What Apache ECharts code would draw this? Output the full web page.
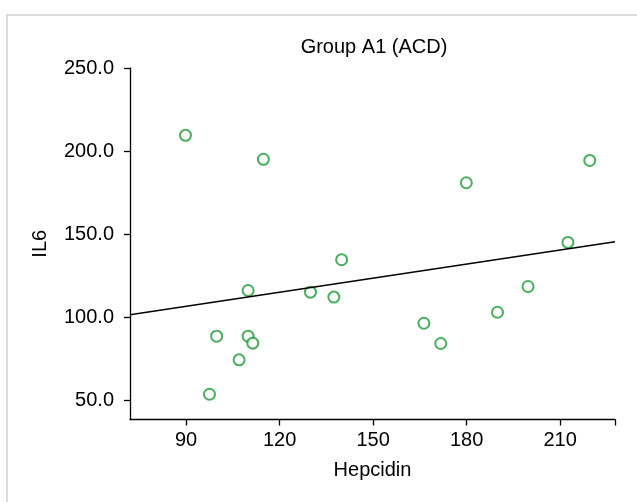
<!DOCTYPE html>
<html>
<head>
    <meta charset="utf-8">
    <title>Group A1 (ACD)</title>
    <style>
        html, body { margin: 0; padding: 0; background: #fff; }
        #main { width: 637px; height: 502px; }
    </style>
</head>
<body>
    <div id="main"></div>
    <script src="https://cdn.jsdelivr.net/npm/echarts@6/dist/echarts.min.js"></script>
    <script>
        // 数据
        var hepcidin = [89.8, 114.8, 219.5, 179.9, 212.5, 139.9, 109.9, 129.9, 137.4, 199.7, 189.9, 166.3, 99.8, 109.9, 111.4, 171.7, 107.0, 97.5];
        var il6 = [209.5, 195.1, 194.4, 181.0, 145.1, 134.7, 116.2, 115.2, 112.2, 118.6, 103.1, 96.5, 88.7, 88.7, 84.5, 84.3, 74.5, 53.8];

        // 回归线两端
        var fitX = [72, 227.6];
        var fitY = [101.6, 145.5];

        var xTicks = [90, 120, 150, 180, 210];
        var yTicks = [50, 100, 150, 200, 250];

        var points = hepcidin.map(function (x, i) { return [x, il6[i]]; });
        var fitLine = fitX.map(function (x, i) { return [x, fitY[i]]; });

        var myChart = echarts.init(document.getElementById('main'));
        var font = 'Liberation Sans, Arial, sans-serif';

        var option = {
            animation: false,
            graphic: [
                {
                    type: 'rect',
                    shape: { x: 7, y: 15, width: 700, height: 600 },
                    style: { fill: 'none', stroke: '#dcdcdc', lineWidth: 2 },
                    silent: true
                },
                {
                    type: 'text',
                    x: 374, y: 47,
                    style: {
                        text: 'Group A1 (ACD)',
                        font: '20px ' + font,
                        fill: '#000',
                        textAlign: 'center',
                        textVerticalAlign: 'middle'
                    }
                }
            ],
            grid: { left: 130, right: 22, top: 68, bottom: 82.5 },
            xAxis: {
                type: 'value',
                min: 72,
                max: 227.6,
                name: 'Hepcidin',
                nameLocation: 'middle',
                nameGap: 41,
                nameTextStyle: { fontSize: 20, fontFamily: font, color: '#000' },
                axisLine: { show: true, lineStyle: { color: '#000', width: 1.3 } },
                axisTick: { show: true, length: 6, customValues: xTicks.concat([227.6]), lineStyle: { color: '#000', width: 1.3 } },
                axisLabel: { customValues: xTicks, margin: 11, fontSize: 20, fontFamily: font, color: '#000' },
                splitLine: { show: false }
            },
            yAxis: {
                type: 'value',
                min: 38.6,
                max: 250,
                name: 'IL6',
                nameLocation: 'middle',
                nameGap: 80,
                nameRotate: 90,
                nameTextStyle: { fontSize: 20, fontFamily: font, color: '#000' },
                axisLine: { show: true, lineStyle: { color: '#000', width: 1.3 } },
                axisTick: { show: true, length: 6, customValues: yTicks, lineStyle: { color: '#000', width: 1.3 } },
                axisLabel: {
                    customValues: yTicks,
                    margin: 16,
                    fontSize: 20,
                    fontFamily: font,
                    color: '#000',
                    formatter: function (v) { return v.toFixed(1); }
                },
                splitLine: { show: false }
            },
            series: [
                {
                    type: 'line',
                    data: fitLine,
                    symbol: 'none',
                    clip: false,
                    lineStyle: { color: '#000', width: 1.3 },
                    silent: true
                },
                {
                    type: 'scatter',
                    data: points,
                    symbol: 'emptyCircle',
                    symbolSize: 11,
                    itemStyle: { color: '#1c9a36', borderColor: '#1c9a36', borderWidth: 1.5 }
                }
            ]
        };

        myChart.setOption(option);
    </script>
</body>
</html>
